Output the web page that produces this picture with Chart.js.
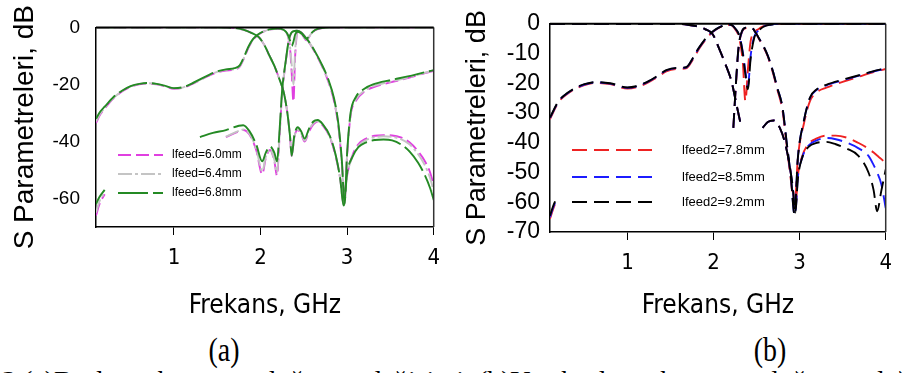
<!DOCTYPE html>
<html>
<head>
<meta charset="utf-8">
<script src="https://cdn.jsdelivr.net/npm/chart.js@4.4.1/dist/chart.umd.min.js"></script>
<style>
  html, body { margin: 0; padding: 0; background: #fff; width: 902px; height: 373px; overflow: hidden; }
  .wrap { position: absolute; top: 0; height: 330px; }
  .tag { position: absolute; font-family: "Liberation Serif", "Times New Roman", serif; font-size: 34px; color: #000; line-height: 1; transform: translateX(-50%) scaleX(0.82); }
  #caption { position: absolute; left: 2px; top: 367px; white-space: nowrap; font-family: "Liberation Serif", "Times New Roman", serif; font-size: 28px; color: #000; line-height: 1; }
</style>
</head>
<body>
<div class="wrap" style="left:0;width:450px"><canvas id="chartA" width="450" height="330"></canvas></div>
<div class="wrap" style="left:450px;width:452px"><canvas id="chartB" width="452" height="330"></canvas></div>
<div class="tag" style="left:224px;top:333px">(a)</div>
<div class="tag" style="left:770px;top:333px">(b)</div>
<div id="caption">3.(a)Besleme hattı uzunluğunun değişimi&nbsp;&nbsp;(b)Yan besleme hattı uzunluğunun değişimi</div>

<script>
// ---- data: panel (a) ----
const xTicks = [1, 2, 3, 4];
const yTicksA = [0, -20, -40, -60];
const yTicksB = [0, -10, -20, -30, -40, -50, -60, -70];

const labelsA = ['lfeed=6.0mm', 'lfeed=6.4mm', 'lfeed=6.8mm'];
const labelsB = ['lfeed2=7.8mm', 'lfeed2=8.5mm', 'lfeed2=9.2mm'];

// stroke 1: falling curve, notches, upper-band tail
const aFreq1 = [0.1, 0.5, 1.0, 1.5, 1.7, 1.8, 1.9, 1.98, 2.05, 2.1, 2.16, 2.21, 2.27, 2.31, 2.34, 2.36, 2.39, 2.43, 2.47, 2.51, 2.56, 2.61, 2.66, 2.72, 2.8, 2.87, 2.92, 2.96, 3.0, 3.06, 3.13, 3.22, 3.32, 3.42, 3.52, 3.62, 3.72, 3.82, 3.9, 3.96, 4.0];
const a1_60 = [0, 0, 0, 0, -0.2, -0.8, -2, -3.4, -6.5, -9.7, -13.5, -17.5, -23, -30, -38, -45, -38.5, -36, -37.5, -40, -36.5, -34, -33, -34.5, -38.5, -45.5, -53, -62, -52, -45, -41, -39, -38, -37.8, -37.9, -38.6, -40.3, -43.5, -47, -51, -55.5];
const a1_64 = [0, 0, 0, 0, -0.2, -0.8, -2, -3.4, -6.5, -9.7, -13.5, -17.5, -23, -30, -38, -45, -38.5, -35.8, -37.2, -39.7, -36, -33.6, -32.8, -34.2, -38.3, -45.2, -53, -62.3, -52, -45.5, -41.5, -39.5, -38.5, -38.2, -38.4, -39.2, -41, -44.5, -48.5, -53, -57.5];
const a1_68 = [0, 0, 0, 0, -0.2, -0.8, -2, -3.4, -6.5, -9.7, -13.5, -17.5, -23, -30, -38, -45, -38, -35, -36.5, -39, -35.5, -33, -32.5, -34, -38, -45, -53, -62.5, -51, -45.5, -42, -40.3, -39.5, -39.3, -39.6, -41, -43.5, -47.5, -52, -56.5, -60.5];

// stroke 2: rising lower-band curve with narrow dip
const aFreq2 = [0.1, 0.15, 0.2, 0.3, 0.4, 0.5, 0.6, 0.7, 0.8, 0.9, 1.0, 1.1, 1.2, 1.3, 1.4, 1.5, 1.6, 1.7, 1.76, 1.81, 1.86, 1.91, 1.97, 2.04, 2.12, 2.2, 2.27, 2.31, 2.34, 2.36, 2.38, 2.4, 2.43, 2.48, 2.53, 2.58, 2.63, 2.7, 2.8, 3.0, 3.5, 4.0];
const a2_60 = [-33.5, -30.5, -28.5, -25, -22.5, -20.8, -20, -19.7, -20, -20.7, -21.5, -21.2, -20, -18.5, -17, -15.8, -15.1, -14.8, -13.8, -10.8, -7.2, -4.5, -2.7, -1.4, -0.7, -0.5, -1, -2.5, -7, -16, -26, -10, -1.6, -2.5, -4.5, -2.5, -1, -0.3, 0, 0, 0, 0];
const a2_64 = [-33, -30.2, -28.3, -24.8, -22.4, -20.7, -19.9, -19.6, -19.9, -20.6, -21.4, -21.1, -19.9, -18.4, -16.9, -15.6, -14.9, -14.6, -13.6, -10.6, -7, -4.4, -2.6, -1.4, -0.7, -0.5, -1, -2.5, -6.5, -13, -20, -8, -1.6, -2.5, -4.3, -2.4, -1, -0.3, 0, 0, 0, 0];
const a2_68 = [-32, -29.5, -27.8, -24.5, -22.2, -20.6, -19.8, -19.5, -19.8, -20.5, -21.3, -21, -19.8, -18.2, -16.7, -15.4, -14.7, -14.3, -13.3, -10.3, -6.8, -4.2, -2.5, -1.3, -0.6, -0.4, -0.9, -2.2, -4.5, -6.5, -5, -2.5, -1.5, -2.3, -4, -2.2, -0.9, -0.2, 0, 0, 0, 0];

// stroke 3: reflection dips, steep rise, upper-band skirt
const aFreq3 = [0.1, 0.14, 0.2, 0.25, 1.3, 1.45, 1.6, 1.75, 1.8, 1.87, 1.95, 2.02, 2.06, 2.11, 2.16, 2.19, 2.22, 2.25, 2.29, 2.33, 2.37, 2.42, 2.47, 2.52, 2.57, 2.63, 2.7, 2.78, 2.85, 2.9, 2.94, 2.97, 3.0, 3.04, 3.1, 3.2, 3.3, 3.5, 3.7, 3.9, 4.0];
const a3_60 = [-66, -62, -58.5, null, null, null, -38.5, -36.5, -36, -37.5, -43, -51.5, -46, -43, -47, -52, -38, -23, -12.5, -4.2, -1.6, -1.2, -1.8, -3.6, -5.7, -8.8, -13, -18.8, -26, -35, -48, -61.5, -45, -31, -25.8, -22.5, -21, -19.3, -17.8, -16, -15.2];
const a3_64 = [-65, -61, -58, null, null, null, -38.3, -36.3, -35.8, -37.2, -42.5, -50.5, -45.5, -42.8, -46.5, -51, -37.5, -22.6, -12.3, -4.1, -1.5, -1.2, -1.8, -3.5, -5.6, -8.7, -12.8, -18.5, -25.6, -34.6, -47.5, -62, -44.6, -30.6, -25.3, -22.2, -20.6, -19, -17.6, -15.9, -15.1];
const a3_68 = [-62, -59.5, -57, null, -38.5, -37, -36, -34.5, -34.3, -36.3, -41, -47, -44, -41.8, -44, -47, -36, -22, -12, -4, -1.5, -1.2, -1.8, -3.5, -5.5, -8.5, -12.5, -18, -25, -34, -47, -62, -44, -30, -24.5, -21.5, -20, -18.5, -17.2, -15.7, -15];

// ---- data: panel (b) ----
const bFreq1 = [0.1, 0.5, 1.0, 1.5, 1.7, 1.8, 1.9, 1.99, 2.06, 2.13, 2.21, 2.25, 2.28, 2.31, 2.4, 2.57, 2.63, 2.7, 2.77, 2.83, 2.88, 2.92, 2.95, 2.98, 3.03, 3.1, 3.2, 3.31, 3.42, 3.55, 3.68, 3.8, 3.86, 3.9, 3.95, 4.0];
const b1_78 = [0, 0, 0, 0, -0.3, -0.8, -1.8, -3.5, -8, -13, -19.5, -24.8, -29, -33, null, -35, -33, -32.5, -35, -40, -47, -55, -62, -51, -44.5, -40.5, -38.5, -37.6, -37.6, -38.3, -40, -42, -43.3, -44.3, -45.5, -47];
const b1_85 = [0, 0, 0, 0, -0.3, -0.8, -1.8, -3.5, -8, -13, -19.5, -24.8, -29, -33, null, -35, -33, -32.5, -35, -40, -47, -55, -63, -51.5, -45, -41, -39.2, -38.4, -38.8, -40, -41.8, -44.4, -47.5, -50, -54, -62];
const b1_92 = [0, 0, 0, 0, -0.3, -0.8, -1.8, -3.5, -8, -13, -19.5, -24.8, -29, -33, null, -35, -33, -32.5, -35, -40, -47, -55, -63.5, -52, -45, -41.5, -40, -39.7, -40.5, -42, -44.3, -50, -56, -63, -56, -49];

const bFreq2 = [0.1, 0.2, 0.3, 0.4, 0.5, 0.63, 0.8, 1.0, 1.1, 1.23, 1.35, 1.45, 1.57, 1.68, 1.77, 1.82, 1.87, 1.93, 1.99, 2.06, 2.14, 2.2, 2.25, 2.3, 2.34, 2.37, 2.4, 2.43, 2.47, 2.52, 2.58, 2.66, 2.8, 3.0, 3.5, 4.0];
const b2_78 = [-32, -26.3, -23.6, -21.8, -20.6, -19.9, -20.3, -21.8, -21.4, -19.9, -17.9, -16, -15.2, -15, -11.5, -9, -6.8, -4.5, -2.8, -1.4, -0.5, -0.4, -1.8, -5, -13, -26, -15, -6, -3, -1.8, -0.8, -0.2, 0, 0, 0, 0];
const b2_85 = [-31.7, -26.1, -23.4, -21.6, -20.4, -19.7, -20.1, -21.5, -21.1, -19.6, -17.6, -15.7, -14.9, -14.7, -11.1, -8.6, -6.5, -4.3, -2.7, -1.3, -0.4, -0.3, -1.5, -4, -9.5, -16, -21, -11, -4.5, -2.3, -0.9, -0.3, 0, 0, 0, 0];
const b2_92 = [-31.5, -26, -23.3, -21.5, -20.3, -19.6, -20, -21.4, -21, -19.5, -17.5, -15.6, -14.8, -14.6, -11, -8.5, -6.4, -4.2, -2.6, -1.3, -0.4, -0.3, -1.5, -4, -10, -17, -22, -12, -5, -2.5, -1, -0.3, 0, 0, 0, 0];

const bFreq3 = [0.1, 0.14, 0.18, 0.22, 2.23, 2.26, 2.29, 2.33, 2.38, 2.44, 2.49, 2.53, 2.58, 2.63, 2.69, 2.74, 2.8, 2.85, 2.9, 2.94, 2.98, 3.05, 3.12, 3.2, 3.31, 3.5, 3.69, 3.85, 4.0];
const b3_78 = [-65.5, -62, -59, null, -35, -20.5, -8.5, -2.7, -1.4, -1.3, -3, -5.2, -7.8, -11, -16.5, -22, -29, -41, -53, -62, -45, -33.5, -26, -23, -21.5, -19.5, -17.8, -16.3, -15.2];
const b3_85 = [-65, -61.5, -58.7, null, -35, -20.2, -8.2, -2.6, -1.3, -1.3, -3, -5, -7.5, -10.7, -16, -21.5, -28, -40, -52, -64, -45, -32.5, -25, -22.2, -20.7, -19, -17.4, -16.1, -15];
const b3_92 = [-64.5, -61, -58.5, null, -35, -20, -8, -2.5, -1.3, -1.3, -3, -5, -7.5, -10.7, -16, -21.5, -28, -40, -52, -64, -45, -32.5, -24.8, -22, -20.5, -18.8, -17.3, -16, -15];

// ---- styles ----
const stylesA = [
  { color: '#e040e0', dash: [13, 5], order: 2 },
  { color: '#c4c4c4', dash: [14, 3, 3, 3], order: 1 },
  { color: '#248a24', dash: [30, 5], order: 0 }
];
const stylesB = [
  { color: '#ee2222', dash: [15, 7], order: 2 },
  { color: '#1c1cff', dash: [15, 7], order: 1 },
  { color: '#000000', dash: [15, 7], order: 0 }
];

const narrow = '"Liberation Sans Narrow", "DejaVu Sans Condensed", Arial, sans-serif';
const sans = '"Liberation Sans", Arial, sans-serif';

function points(freq, vals) {
  return freq.map((f, i) => ({ x: f, y: vals[i] }));
}

function buildSets(strokes, styles) {
  const sets = [];
  strokes.forEach(st => {
    st.series.forEach((vals, k) => {
      sets.push({
        data: points(st.freq, vals),
        borderColor: styles[k].color,
        borderDash: styles[k].dash,
        borderWidth: 1.9,
        pointRadius: 0,
        fill: false,
        spanGaps: false,
        cubicInterpolationMode: 'monotone',
        order: styles[k].order
      });
    });
  });
  return sets;
}

// box around plot area, heavier on top
const framePlugin = {
  id: 'frame',
  afterDraw(chart) {
    const { ctx, chartArea: a } = chart;
    ctx.save();
    ctx.strokeStyle = '#333';
    ctx.lineWidth = 1.5;
    ctx.beginPath();
    ctx.moveTo(a.right, a.top);
    ctx.lineTo(a.right, a.bottom);
    ctx.stroke();
    ctx.strokeStyle = '#000';
    ctx.lineWidth = 2;
    ctx.beginPath();
    ctx.moveTo(a.left, a.top);
    ctx.lineTo(a.right, a.top);
    ctx.stroke();
    ctx.restore();
  }
};

// legend drawn inside the plot
const legendPlugin = {
  id: 'boxLegend',
  afterDatasetsDraw(chart, args, opts) {
    if (!opts || !opts.labels) return;
    const ctx = chart.ctx;
    ctx.save();
    for (let i = 0; i < opts.labels.length; i++) {
      const y = opts.ys[i];
      ctx.strokeStyle = opts.colors[i];
      ctx.lineWidth = 1.9;
      ctx.setLineDash(opts.dashes[i]);
      ctx.beginPath();
      ctx.moveTo(opts.x0, y);
      ctx.lineTo(opts.x1, y);
      ctx.stroke();
      ctx.setLineDash([]);
      ctx.fillStyle = '#000';
      ctx.font = opts.font;
      ctx.textAlign = 'left';
      ctx.textBaseline = 'middle';
      ctx.fillText(opts.labels[i], opts.tx, y);
    }
    ctx.restore();
  }
};

function makeChart(id, cfg) {
  return new Chart(document.getElementById(id), {
    type: 'line',
    data: { datasets: cfg.sets },
    plugins: [framePlugin, legendPlugin],
    options: {
      responsive: false,
      animation: false,
      devicePixelRatio: 1,
      events: [],
      layout: { padding: cfg.pad },
      plugins: {
        legend: { display: false },
        tooltip: { enabled: false },
        boxLegend: cfg.legend
      },
      scales: {
        x: {
          type: 'linear',
          min: 0.1,
          max: 4,
          afterBuildTicks: s => { s.ticks = xTicks.map(v => ({ value: v })); },
          afterFit: s => { s.height = cfg.xHeight; },
          grid: { display: true, drawOnChartArea: false, drawTicks: true, tickLength: 8, color: '#000', lineWidth: 1 },
          border: { display: true, color: '#000', width: 1.5 },
          ticks: { font: { family: narrow, size: 22 }, color: '#000', padding: 10, maxRotation: 0, autoSkip: false },
          title: { display: true, text: 'Frekans, GHz', color: '#000', font: { family: narrow, size: 26 }, padding: { top: 0, bottom: 8 } }
        },
        y: {
          min: -70,
          max: 0,
          afterBuildTicks: s => { s.ticks = cfg.yTicks.map(v => ({ value: v })); },
          afterFit: s => { s.width = cfg.yWidth; },
          grid: { display: true, drawOnChartArea: false, drawTicks: false },
          border: { display: true, color: '#000', width: 1.5 },
          ticks: { font: { family: sans, size: cfg.yFont }, color: '#000', padding: cfg.yPad, autoSkip: false },
          title: { display: true, text: 'S Parametreleri, dB', color: '#000', font: { family: sans, size: cfg.titleSize }, padding: { top: cfg.titlePad, bottom: 0 } }
        }
      }
    }
  });
}

makeChart('chartA', {
  sets: buildSets([
    { freq: aFreq1, series: [a1_60, a1_64, a1_68] },
    { freq: aFreq2, series: [a2_60, a2_64, a2_68] },
    { freq: aFreq3, series: [a3_60, a3_64, a3_68] }
  ], stylesA),
  pad: { top: 12, right: 12, left: 0, bottom: 0 },
  xHeight: 103,
  yWidth: 96,
  yTicks: yTicksA,
  yFont: 19,
  yPad: 16,
  titleSize: 28,
  titlePad: 8,
  legend: {
    labels: labelsA,
    colors: stylesA.map(s => s.color),
    dashes: stylesA.map(s => s.dash),
    x0: 118, x1: 163, tx: 172,
    ys: [155, 174, 193],
    font: '12px ' + sans
  }
});

makeChart('chartB', {
  sets: buildSets([
    { freq: bFreq1, series: [b1_78, b1_85, b1_92] },
    { freq: bFreq2, series: [b2_78, b2_85, b2_92] },
    { freq: bFreq3, series: [b3_78, b3_85, b3_92] }
  ], stylesB),
  pad: { top: 17, right: 8, left: 0, bottom: 0 },
  xHeight: 98,
  yWidth: 100,
  yTicks: yTicksB,
  yFont: 23,
  yPad: 10,
  titleSize: 27,
  titlePad: 11,
  legend: {
    labels: labelsB,
    colors: stylesB.map(s => s.color),
    dashes: stylesB.map(s => s.dash),
    x0: 122, x1: 202, tx: 232,
    ys: [150, 177, 202],
    font: '13px ' + sans
  }
});
</script>
</body>
</html>
